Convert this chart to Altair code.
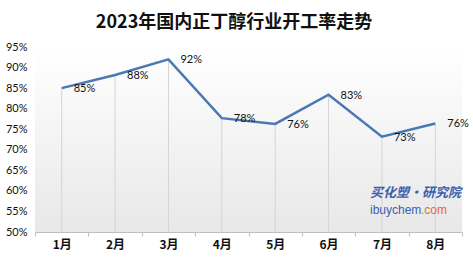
import altair as alt
import pandas as pd

months = ["1月", "2月", "3月", "4月", "5月", "6月", "7月", "8月"]
rates = [85.0, 88.2, 92.0, 77.7, 76.3, 83.4, 73.2, 76.4]
labels = ["85%", "88%", "92%", "78%", "76%", "83%", "73%", "76%"]
y_ticks = [50, 55, 60, 65, 70, 75, 80, 85, 90, 95]
title_text = "2023年国内正丁醇行业开工率走势"

df = pd.DataFrame({"month": months, "v": [r / 100 for r in rates], "lab": labels})

W, H = 427, 185

xenc = alt.X(
    "month:N", sort=months, bandPosition=0.5,
    scale=alt.Scale(type="band", paddingInner=0, paddingOuter=0),
    axis=alt.Axis(title=None, labelAngle=0, tickBand="extent", domainColor="#bfbfbf",
                  tickColor="#bfbfbf", tickSize=4, labelFont="Noto Sans CJK SC",
                  labelFontWeight="bold", labelFontSize=12, labelColor="#111111",
                  labelPadding=3, grid=False),
)
yenc = alt.Y(
    "v:Q", scale=alt.Scale(domain=[0.5, 0.95], nice=False, zero=False),
    axis=alt.Axis(title=None, values=[t / 100 for t in y_ticks], format=".0%",
                  domain=False, ticks=False, grid=False, labelPadding=8,
                  labelFont="Lato", labelFontSize=11, labelColor="#111111"),
)

bg = alt.Chart(pd.DataFrame({"a": [0]})).mark_rect(
    color=alt.Gradient(gradient="linear",
                       stops=[alt.GradientStop(color="#ffffff", offset=0),
                              alt.GradientStop(color="#e8e8e8", offset=1)],
                       x1=0, x2=0, y1=0, y2=1)
).encode(x=alt.value(0), x2=alt.value(W), y=alt.value(0), y2=alt.value(H))

base = alt.Chart(df)
drops = base.mark_rule(color="#d4d4d4", strokeWidth=1).encode(x=xenc, y=yenc, y2=alt.datum(0.5))
line = base.mark_line(color="#4a78b3", strokeWidth=2.5).encode(x=xenc, y=yenc)
text = base.mark_text(align="left", dx=12, dy=1, fontSize=11, font="Lato", color="#111111").encode(
    x=xenc, y=yenc, text="lab:N")

title = alt.Chart(pd.DataFrame({"t": [title_text]})).mark_text(
    font="Noto Sans CJK SC", fontWeight="bold", fontSize=18, color="#111111"
).encode(x=alt.value(199), y=alt.value(-24), text="t:N")

wm1 = alt.Chart(pd.DataFrame({"t": ["买化塑·研究院"]})).mark_text(
    font="Noto Sans CJK SC", fontWeight="bold", fontStyle="italic", fontSize=13,
    color="#3b5fae", align="left"
).encode(x=alt.value(335), y=alt.value(146), text="t:N")
wm2 = alt.Chart(pd.DataFrame({"t": ["ibuychem"]})).mark_text(
    font="Liberation Sans", fontSize=12, color="#3b5fae", align="left"
).encode(x=alt.value(335), y=alt.value(163), text="t:N")
wm3 = alt.Chart(pd.DataFrame({"t": [".com"]})).mark_text(
    font="Liberation Sans", fontSize=12, color="#e8653f", align="left"
).encode(x=alt.value(386), y=alt.value(163), text="t:N")

chart = alt.layer(bg, drops, line, text, title, wm1, wm2, wm3).properties(
    width=W, height=H,
    autosize=alt.AutoSizeParams(type="none"),
    padding={"left": 35, "top": 47, "right": 11, "bottom": 28},
    background="white",
).configure_view(stroke=None)

chart.save("out.html", embed_options={"renderer": "svg", "actions": False})
